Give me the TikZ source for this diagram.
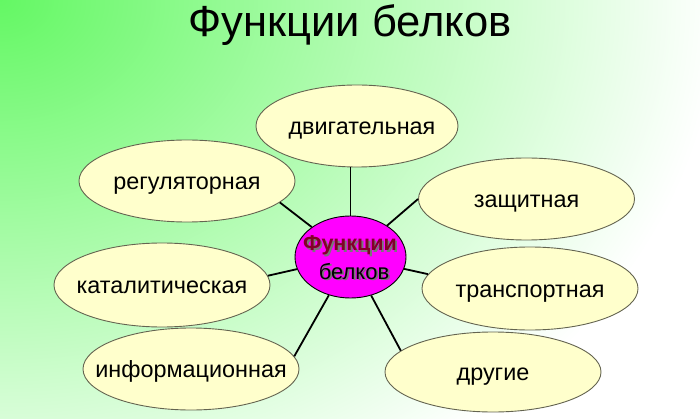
\documentclass[tikz,border=0pt]{standalone}
\usepackage{fontspec}
\setmainfont{Liberation Sans}
\usetikzlibrary{shapes.geometric}
\definecolor{bggreen}{RGB}{100,248,100}
\definecolor{cream}{RGB}{255,255,204}
\definecolor{rim}{RGB}{100,100,80}
\definecolor{magentafill}{RGB}{255,0,255}
\definecolor{darkred}{RGB}{130,0,40}
\definecolor{shadowgray}{RGB}{120,120,120}
\newcommand{\shadowed}[1]{\makebox[0pt][l]{\hspace{1.8pt}\raisebox{-1.4pt}{\color{shadowgray}#1}}#1}
\tikzset{
  func/.style={ellipse, draw=rim, line width=0.9pt, fill=cream, inner sep=0pt,
    minimum width=216pt, minimum height=82pt,
    font=\fontsize{23.4}{27}\selectfont, text height=17pt, text depth=0pt},
  hub/.style={ellipse, draw=black, line width=0.9pt, fill=magentafill, inner sep=0pt,
    minimum width=111pt, minimum height=82pt},
  link/.style={draw=black, line width=1.8pt},
  hubtop/.style={anchor=base, inner sep=0pt, text=darkred, font=\fontsize{21.5}{24}\bfseries\selectfont},
  hubbot/.style={anchor=base, inner sep=0pt, text=black, font=\fontsize{22}{24}\selectfont},
}
\begin{document}
\begin{tikzpicture}[x=1pt,y=-1pt]
\useasboundingbox (0,0) rectangle (700,419);
\begin{scope}
  \clip (0,0) rectangle (700,419);
  \shade[inner color=bggreen, outer color=white] (0,0) ellipse [x radius=720, y radius=560];
\end{scope}
\node[anchor=base, inner sep=0pt, font=\fontsize{43.5}{50}\selectfont] (title) at (350,37) {Функции белков};

\node[hub] (c) at (350.5,257) {};
\node[func, minimum width=202pt] (dv) at (357,126) {\makebox[0pt]{\hspace{10pt}двигательная}};
\node[func] (reg) at (187,181) {\makebox[0pt]{регуляторная}};
\node[func, minimum height=84pt] (kat) at (162,285) {\makebox[0pt]{каталитическая}};
\node[func] (inf) at (191,369) {\makebox[0pt]{информационная}};
\node[func] (zas) at (526.5,199) {\makebox[0pt]{защитная}};
\node[func, minimum height=83pt] (tr) at (530,288.5) {\makebox[0pt]{транспортная}};
\node[func, minimum height=80pt] (dr) at (493,372) {\makebox[0pt]{другие}};

\draw[link] (c.north) -- (c.north |- dv.south);
\draw[link] (c) -- (reg.-13);
\draw[link] (c) -- (kat.5);
\draw[link] (c) -- (inf.7);
\draw[link] (c) -- (zas.west);
\draw[link] (c) -- (tr.172);
\draw[link] (c) -- (dr.167);

\node[hubtop] (c1) at (350,251) {\shadowed{Функции}};
\node[hubbot] (c2) at (354,279) {\shadowed{белков}};
\end{tikzpicture}
\end{document}
